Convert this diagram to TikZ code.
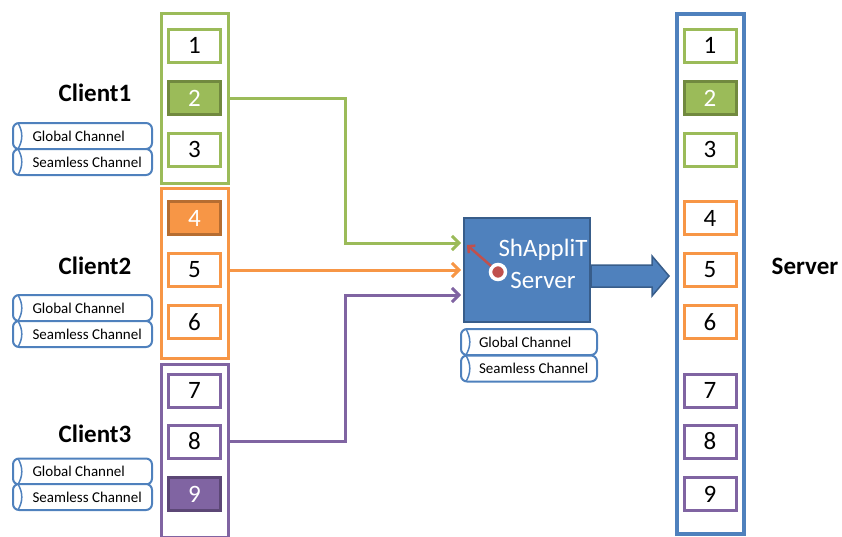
\documentclass[tikz,border=0pt]{standalone}
\usepackage{fontspec}
\setmainfont{Carlito}
\usetikzlibrary{arrows.meta}

\definecolor{cgreen}{HTML}{9BBB59}
\definecolor{cgreendk}{HTML}{71893F}
\definecolor{corange}{HTML}{F79646}
\definecolor{corangedk}{HTML}{B66D31}
\definecolor{cpurple}{HTML}{8064A2}
\definecolor{cpurpledk}{HTML}{5C4776}
\definecolor{cblue}{HTML}{4F81BD}
\definecolor{cbluedk}{HTML}{385D8A}
\definecolor{cred}{HTML}{C0504D}

\newcommand{\chantxt}[1]{\hbox to 100pt{#1\hss}}

\tikzset{
  slot/.style={draw=#1, line width=3pt, fill=white, minimum width=52pt,
    minimum height=33pt, inner sep=0pt, font=\fontsize{25}{30}\selectfont},
  slotfull/.style 2 args={draw=#2, fill=#1, line width=3pt, minimum width=52pt,
    minimum height=33pt, inner sep=0pt, text=white, font=\fontsize{25}{30}\selectfont},
  column/.style={draw=#1, line width=3pt, minimum width=67pt, minimum height=170pt,
    inner sep=0pt},
  chan/.style={draw=cblue, line width=2pt, rounded corners=6pt, fill=white,
    minimum width=#1, minimum height=26pt, inner sep=0pt,
    font=\fontsize{15}{18}\selectfont,
    path picture={\draw[cblue, line width=1.5pt]
      ([xshift=5pt]path picture bounding box.north west) to[bend left=30]
      ([xshift=5pt]path picture bounding box.south west);}},
  clientlbl/.style={font=\fontsize{25}{30}\selectfont\bfseries},
  wire/.style={draw=#1, line width=3pt,
    -{Straight Barb[length=7pt,width=14pt,line width=3pt]}}
}

\begin{document}
\begin{tikzpicture}[x=1pt,y=-1pt]
\useasboundingbox (0,0) rectangle (842,536);

%% client columns
\node[column=cgreen]  (cl1) at (195,98)    {};
\node[column=corange] (cl2) at (195,273.5) {};
\node[column=cpurple, minimum height=173pt] (cl3) at (195,451) {};

%% client slots
\node[slot=cgreen]                   (b1) at (194.5,45.5)  {1};
\node[slotfull={cgreen}{cgreendk}]   (b2) at (194.5,98)    {2};
\node[slot=cgreen]                   (b3) at (194.5,149.5) {3};
\node[slotfull={corange}{corangedk}] (b4) at (194.5,218)   {4};
\node[slot=corange]                  (b5) at (194.5,270)   {5};
\node[slot=corange]                  (b6) at (194.5,322)   {6};
\node[slot=cpurple]                  (b7) at (194.5,390.5) {7};
\node[slot=cpurple]                  (b8) at (194.5,441.5) {8};
\node[slotfull={cpurple}{cpurpledk}] (b9) at (194.5,494)   {9};

%% client labels
\node[clientlbl] (c1) at (95,93)    {Client1};
\node[clientlbl] (c2) at (95,266)   {Client2};
\node[clientlbl] (c3) at (95,433.5) {Client3};

%% client channels
\node[chan=139pt] (gc1) at (82.5,136)   {\chantxt{Global Channel}};
\node[chan=139pt] (sc1) at (82.5,162)   {\chantxt{Seamless Channel}};
\node[chan=139pt] (gc2) at (82.5,308)   {\chantxt{Global Channel}};
\node[chan=139pt] (sc2) at (82.5,334)   {\chantxt{Seamless Channel}};
\node[chan=139pt] (gc3) at (82.5,471.5) {\chantxt{Global Channel}};
\node[chan=139pt] (sc3) at (82.5,497)   {\chantxt{Seamless Channel}};

%% shapplit server
\node[draw=cbluedk, fill=cblue, line width=2pt, minimum width=126pt,
  minimum height=104pt, inner sep=0pt] (srv) at (527,270) {};
\node[align=center, text=white, font=\fontsize{25}{32}\selectfont]
  (srvlbl) at (543,264) {ShAppliT\\Server};
\node[circle, fill=cred, draw=white, line width=3.5pt, minimum size=15pt,
  inner sep=0pt] (dot) at (498,272) {};
\coordinate (dotend) at (467,245);
\draw[cred, line width=2.5pt, -{Straight Barb[length=5pt,width=10pt,line width=2.5pt]}]
  (dot) -- (dotend);

\node[chan=136pt] (gcs) at (529,342)   {\chantxt{Global Channel}};
\node[chan=136pt] (scs) at (529,368.5) {\chantxt{Seamless Channel}};

%% big arrow to server
\draw[draw=cbluedk, fill=cblue, line width=1.5pt] (srv.east) ++(0,-5)
  -- ++(61,0) -- ++(0,-9) -- ++(17,20) -- ++(-17,20) -- ++(0,-9)
  -- ++(-61,0) -- cycle;

%% server column
\node[draw=cblue, line width=4pt, minimum width=67pt, minimum height=520pt,
  inner sep=0pt] (scol) at (710.5,274) {};
\node[slot=cgreen]                 (s1) at (710,45.5)  {1};
\node[slotfull={cgreen}{cgreendk}] (s2) at (710,98)    {2};
\node[slot=cgreen]                 (s3) at (710,149.5) {3};
\node[slot=corange]                (s4) at (710,218)   {4};
\node[slot=corange]                (s5) at (710,270)   {5};
\node[slot=corange]                (s6) at (710,322)   {6};
\node[slot=cpurple]                (s7) at (710,390.5) {7};
\node[slot=cpurple]                (s8) at (710,441.5) {8};
\node[slot=cpurple]                (s9) at (710,494)   {9};
\node[clientlbl] (srvname) at (805,266) {Server};

%% connectors
\coordinate (jg) at (345,243);
\coordinate (jp) at (345,295);
\draw[wire=cgreen]  (b2 -| cl1.east) -| (jg) -- ([xshift=-2pt]jg -| srv.west);
\draw[wire=corange] (b5 -| cl2.east) -- ([xshift=-2pt]b5 -| srv.west);
\draw[wire=cpurple] (b8 -| cl3.east) -| (jp) -- ([xshift=-2pt]jp -| srv.west);

\end{tikzpicture}
\end{document}
